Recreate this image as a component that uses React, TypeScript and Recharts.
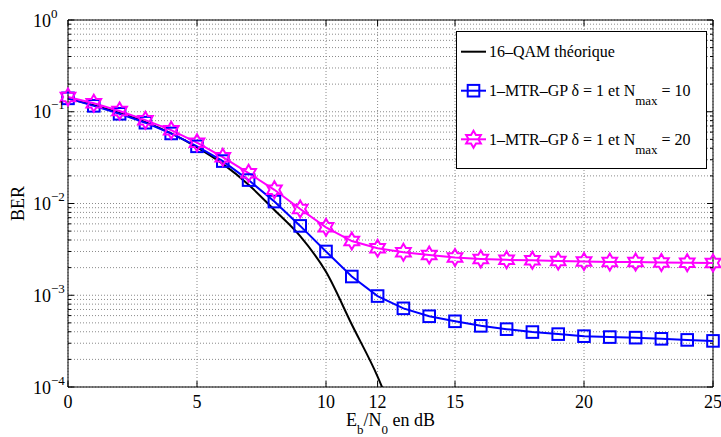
import React from 'react'
import { LineChart, Line, XAxis, YAxis, CartesianGrid, Legend, ReferenceLine } from 'recharts'

// Eb/N0 (dB)
const SNR_DB = [0, 1, 2, 3, 4, 5, 6, 7, 8, 9, 10, 11, 12, 13, 14, 15, 16, 17, 18, 19, 20, 21, 22, 23, 24, 25]

// BER
const BER_THEORY = [0.139, 0.118, 0.097, 0.077, 0.058, 0.041, 0.027, 0.016, 0.0085, 0.0044, 0.0018, 0.00048, 0.00013, 0.000025]
const BER_NMAX10 = [
  0.14, 0.116, 0.095, 0.076, 0.058, 0.042, 0.029, 0.018, 0.0105, 0.0057, 0.003, 0.0016, 0.00098,
  0.00072, 0.00059, 0.00052, 0.000464, 0.000427, 0.000397, 0.000377, 0.000358, 0.00035, 0.000345,
  0.000335, 0.000326, 0.000318,
]
const BER_NMAX20 = [
  0.145, 0.124, 0.102, 0.081, 0.063, 0.046, 0.032, 0.0214, 0.0141, 0.0087, 0.0055, 0.0039, 0.00326,
  0.00295, 0.00275, 0.00258, 0.00249, 0.00243, 0.0024, 0.00236, 0.00233, 0.0023, 0.0023, 0.00228,
  0.00226, 0.00224,
]

const X_TICKS = [0, 5, 10, 12, 15, 20, 25]
const Y_DECADES = [1e-4, 1e-3, 1e-2, 1e-1, 1]
const Y_EXPONENTS = ['−4', '−3', '−2', '−1', '0']
const Y_MANTISSAS = [1, 2, 3, 4, 5, 6, 7, 8, 9]

const LEGEND_MAIN = ['16–QAM théorique', '1–MTR–GP δ = 1 et N', '1–MTR–GP δ = 1 et N']
const LEGEND_SUB = ['', 'max', 'max']
const LEGEND_TAIL = ['', ' = 10', ' = 20']

const Y_TICKS: number[] = []
Y_DECADES.slice(0, 4).forEach(d => Y_MANTISSAS.forEach(m => Y_TICKS.push(m * d)))
Y_TICKS.push(1)

const data = SNR_DB.map((x, i) => ({
  x,
  theory: BER_THEORY[i],
  n10: BER_NMAX10[i],
  n20: BER_NMAX20[i],
}))

const FONT = 'Liberation Serif'
const PL = 68
const PR = 713
const PT = 20
const PB = 387

function hexPoints(cx: number, cy: number, R: number) {
  const r = R / Math.sqrt(3)
  const pts: string[] = []
  for (let k = 0; k < 12; k++) {
    const a = -Math.PI / 2 + (k * Math.PI) / 6
    const rad = k % 2 === 0 ? R : r
    pts.push(`${cx + rad * Math.cos(a)},${cy + rad * Math.sin(a)}`)
  }
  return pts.join(' ')
}

const Square = ({ cx, cy }: any) =>
  cx == null || cy == null ? null : (
    <rect x={cx - 5.8} y={cy - 5.8} width={11.6} height={11.6} fill="none" stroke="#0000ff" strokeWidth={2} />
  )

const Hexagram = ({ cx, cy }: any) =>
  cx == null || cy == null ? null : (
    <polygon points={hexPoints(cx, cy, 8.5)} fill="none" stroke="#ff00ff" strokeWidth={2} strokeLinejoin="miter" />
  )

function isDecade(v: number) {
  return Y_DECADES.findIndex(d => Math.abs(Math.log10(d) - Math.log10(v)) < 1e-6)
}

function YTick(props: any) {
  const { y, payload } = props
  const idx = isDecade(payload.value)
  const len = idx >= 0 ? 6 : 3
  return (
    <g>
      <line x1={PL} x2={PL + len} y1={y} y2={y} stroke="#000" />
      <line x1={PR} x2={PR - len} y1={y} y2={y} stroke="#000" />
      {idx >= 0 && (
        <text x={33} y={y + 6.5} fontSize={18} fill="#000">
          10
          <tspan dy={-9} fontSize={13}>{Y_EXPONENTS[idx]}</tspan>
        </text>
      )}
    </g>
  )
}

function XTick(props: any) {
  const { x, payload } = props
  return (
    <g>
      <line x1={x} x2={x} y1={PB} y2={PB - 6} stroke="#000" />
      <line x1={x} x2={x} y1={PT} y2={PT + 6} stroke="#000" />
      <text x={x} y={408} textAnchor="middle" fontSize={18} fill="#000">
        {payload.value}
      </text>
    </g>
  )
}

function XLabel(props: any) {
  const vb = props.viewBox || { x: PL, y: PB, width: PR - PL }
  return (
    <text x={vb.x + vb.width / 2} y={vb.y + 39} textAnchor="middle" fontSize={18} fill="#000">
      E<tspan dy={8} fontSize={13}>b</tspan>
      <tspan dy={-8}>/N</tspan>
      <tspan dy={8} fontSize={13}>0</tspan>
      <tspan dy={-8}> en dB</tspan>
    </text>
  )
}

function YLabel(props: any) {
  const vb = props.viewBox || { x: 0, y: PT, height: PB - PT }
  const cx = vb.x + 24
  const cy = vb.y + vb.height / 2
  return (
    <text x={cx} y={cy} transform={`rotate(-90, ${cx}, ${cy})`} textAnchor="middle" fontSize={18} fill="#000">
      BER
    </text>
  )
}

const ROW_Y = [20.7, 59.7, 108.3]

function LegendBox(props: any) {
  const items = props.payload ?? []
  return (
    <svg width={251} height={138} style={{ display: 'block' }}>
      <rect x={0.5} y={0.5} width={250} height={137} fill="#fff" stroke="#000" />
      {items.map((it: any, i: number) => {
        const cy = ROW_Y[i]
        return (
          <g key={i}>
            <line x1={5} x2={30} y1={cy} y2={cy} stroke={it.color} strokeWidth={2} />
            {i === 1 && <Square cx={17.5} cy={cy} />}
            {i === 2 && <Hexagram cx={17.5} cy={cy} />}
            <text x={33} y={cy + 5.5} fontSize={16} fill="#000">
              {LEGEND_MAIN[i]}
              {LEGEND_SUB[i] && <tspan dy={9} fontSize={13}>{LEGEND_SUB[i]}</tspan>}
              {LEGEND_TAIL[i] && <tspan dy={-9}>{LEGEND_TAIL[i]}</tspan>}
            </text>
          </g>
        )
      })}
    </svg>
  )
}

export default function App() {
  return (
    <div style={{ width: 721, height: 437, background: '#fff' }}>
      <style>{`body{margin:0;background:#fff} svg text, svg tspan{font-family:"${FONT}", serif !important}`}</style>
      <LineChart width={721} height={437} data={data} margin={{ top: PT, right: 721 - PR, bottom: 0, left: 0 }}>
        <CartesianGrid stroke="#8a8a8a" strokeDasharray="1 2" />
        <XAxis
          dataKey="x"
          type="number"
          domain={[0, 25]}
          ticks={X_TICKS}
          interval={0}
          height={50}
          tick={<XTick />}
          tickLine={false}
          axisLine={{ stroke: '#000' }}
          label={<XLabel />}
        />
        <YAxis
          type="number"
          scale="log"
          domain={[1e-4, 1]}
          ticks={Y_TICKS}
          interval={0}
          width={68}
          tick={<YTick />}
          tickLine={false}
          axisLine={{ stroke: '#000' }}
          label={<YLabel />}
        />
        <YAxis yAxisId="th" hide type="number" scale="log" domain={[1e-4, 1]} allowDataOverflow />
        <ReferenceLine y={1} stroke="#000" />
        <ReferenceLine x={25} stroke="#000" />
        <Line
          yAxisId="th"
          type="monotone"
          dataKey="theory"
          name="16–QAM théorique"
          stroke="#000000"
          strokeWidth={2}
          dot={false}
          isAnimationActive={false}
        />
        <Line
          type="linear"
          dataKey="n10"
          name="Nmax = 10"
          stroke="#0000ff"
          strokeWidth={2}
          dot={<Square />}
          isAnimationActive={false}
        />
        <Line
          type="linear"
          dataKey="n20"
          name="Nmax = 20"
          stroke="#ff00ff"
          strokeWidth={2}
          dot={<Hexagram />}
          isAnimationActive={false}
        />
        <Legend
          layout="horizontal"
          verticalAlign="middle"
          align="center"
          content={<LegendBox />}
          wrapperStyle={{ left: 456, top: 31, width: 251, height: 138 }}
        />
      </LineChart>
    </div>
  )
}
